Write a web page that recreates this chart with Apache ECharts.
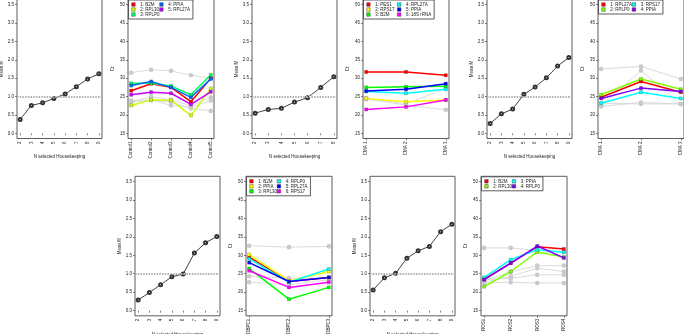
<!DOCTYPE html>
<html>
<head>
<meta charset="utf-8">
<script src="https://cdn.jsdelivr.net/npm/echarts@6/dist/echarts.min.js"></script>
<style>
  html, body { margin: 0; padding: 0; background: #fff; }
  #chart { width: 684px; height: 334px; }
</style>
</head>
<body>
<div id="chart"></div>
<script>
// tick labels
const meanMTicks = [0, 0.5, 1, 1.5, 2, 2.5, 3, 3.5];
const ctTicks = [15, 20, 25, 30, 35, 40, 45, 50];

// top row, first pair
const nSelA = [2, 3, 4, 5, 6, 7, 8, 9];
const meanMA = [0.38, 0.76, 0.83, 0.95, 1.07, 1.27, 1.48, 1.62];
const catsA = ['Control1', 'Control2', 'Control3', 'Control4', 'Control5'];
const genesA = ['1: B2M', '2: RPL30', '3: RPLP0', '4: PPIA', '5: RPL27A'];
const ctA = [
  [26.6, 28.5, 27.5, 23.6, 30.0],
  [22.6, 24.1, 24.0, 19.9, 27.2],
  [28.6, 28.6, 27.9, 25.5, 30.9],
  [28.0, 29.1, 27.5, 24.8, 29.8],
  [25.5, 26.2, 25.9, 22.9, 26.3],
];
const greyA = [
  [31.5, 32.3, 32.0, 30.8, 30.0],
  [23.6, 25.0, 24.1, 22.5, 24.8],
  [23.9, 24.1, 22.6, 22.1, 23.9],
  [23.4, 24.0, 23.5, 21.8, 21.1],
];

// top row, second pair
const nSelB = [2, 3, 4, 5, 6, 7, 8];
const meanMB = [0.55, 0.65, 0.68, 0.85, 0.97, 1.25, 1.54];
const catsB = ['CMA 1', 'CMA 2', 'CMA 3'];
const genesB = ['1: PES1', '2: RPS17', '3: B2M', '4: RPL27A', '5: PPIA', '6: 18S rRNA'];
const ctB = [
  [31.7, 31.7, 30.8],
  [24.5, 23.6, 24.1],
  [27.5, 27.7, 27.8],
  [26.4, 25.9, 27.0],
  [26.5, 27.0, 28.5],
  [21.5, 22.2, 24.1],
];
const greyB = [
  [24.3, 22.7, 21.4],
  [24.6, 23.0, 27.2],
];

// top row, third pair
const nSelC = [2, 3, 4, 5, 6, 7, 8, 9];
const meanMC = [0.27, 0.53, 0.66, 1.06, 1.26, 1.51, 1.83, 2.06];
const catsC = ['CMA 1', 'CMA 2', 'CMA 3'];
const genesC = ['1: RPL27A', '2: RPLP0', '3: RPS17', '4: PPIA'];
const ctC = [
  [24.8, 29.1, 26.2],
  [25.5, 29.8, 27.0],
  [23.2, 26.2, 24.5],
  [24.5, 27.3, 26.4],
];
const greyC = [
  [32.5, 33.2, 29.8],
  [22.5, 32.1, 22.9],
  [22.3, 23.4, 23.0],
  [23.2, 23.0, 23.0],
];

// bottom row, first pair
const nSelD = [2, 3, 4, 5, 6, 7, 8, 9];
const meanMD = [0.29, 0.49, 0.70, 0.92, 0.99, 1.56, 1.84, 2.01];
const catsD = ['DBPC1', 'DBPC2', 'DBPC3'];
const genesD = ['1: B2M', '2: PPIA', '3: RPL30', '4: RPLP0', '5: RPL27A', '6: RPS17'];
const ctD = [
  [29.5, 22.9, 24.0],
  [30.2, 23.1, 25.6],
  [26.4, 18.1, 21.3],
  [29.0, 22.7, 26.3],
  [28.0, 22.9, 24.0],
  [25.8, 21.3, 22.7],
];
const greyD = [
  [32.6, 32.2, 32.4],
  [24.3, 23.8, 23.8],
  [22.7, 22.0, 23.4],
];

// bottom row, second pair
const nSelE = [2, 3, 4, 5, 6, 7, 8, 9];
const meanME = [0.56, 0.89, 1.01, 1.42, 1.62, 1.74, 2.14, 2.34];
const catsE = ['ROS1', 'ROS2', 'ROS3', 'ROS4'];
const genesE = ['1: B2M', '2: RPL30', '3: PPIA', '4: RPLP0'];
const ctE = [
  [23.5, 27.9, 32.3, 31.7],
  [21.5, 25.6, 30.9, 29.5],
  [24.0, 28.8, 31.5, 30.8],
  [23.4, 27.9, 32.5, 29.3],
];
const greyE = [
  [32.0, 32.0, 31.3, 31.0],
  [23.1, 25.5, 27.2, 27.2],
  [22.7, 24.3, 26.5, 25.6],
  [23.4, 23.8, 24.7, 24.7],
  [22.5, 22.7, 22.5, 22.5],
];

const rainbow4 = ['#FF0000', '#80FF00', '#00FFFF', '#8000FF'];
const rainbow5 = ['#FF0000', '#CCFF00', '#00FF66', '#0066FF', '#CC00FF'];
const rainbow6 = ['#FF0000', '#FFFF00', '#00FF00', '#00FFFF', '#0000FF', '#FF00FF'];

const fs = 4.5;
const txt = '#222';
const grids = [];
const xAxes = [];
const yAxes = [];
const series = [];
const legends = [];

function pad4(lo, hi) {
  const e = (hi - lo) * 0.04;
  return [lo - e, hi + e];
}

function addGrid(box) {
  grids.push({
    left: box.left, top: box.top, width: box.width, height: box.height,
    show: true, borderColor: '#333', borderWidth: 0.8,
    backgroundColor: 'transparent', outerBoundsMode: 'none',
  });
  return grids.length - 1;
}

function makeX(g, lo, hi, ticks, fmt, name) {
  const r = pad4(lo, hi);
  return {
    gridIndex: g, type: 'value', min: r[0], max: r[1],
    name: name, nameLocation: 'middle', nameGap: 16,
    nameTextStyle: { fontSize: fs, color: txt },
    axisLine: { show: false },
    axisTick: { show: true, length: 2, customValues: ticks, lineStyle: { color: '#333', width: 0.6 } },
    axisLabel: { customValues: ticks, rotate: 90, fontSize: fs, color: txt, margin: 3, formatter: fmt },
    splitLine: { show: false },
  };
}

function makeY(g, ticks, fmt, name) {
  const r = pad4(ticks[0], ticks[ticks.length - 1]);
  return {
    gridIndex: g, type: 'value', min: r[0], max: r[1],
    name: name, nameLocation: 'middle', nameGap: 13, nameRotate: 90,
    nameTextStyle: { fontSize: fs, color: txt },
    axisLine: { show: false },
    axisTick: { show: true, length: 2, customValues: ticks, lineStyle: { color: '#333', width: 0.6 } },
    axisLabel: { customValues: ticks, fontSize: fs, color: txt, margin: 3, formatter: fmt },
    splitLine: { show: false },
  };
}

function meanPanel(box, nSel, meanM) {
  const g = addGrid(box);
  xAxes.push(makeX(g, nSel[0], nSel[nSel.length - 1], nSel, (v) => String(Math.round(v)), 'N selected Housekeeping'));
  yAxes.push(makeY(g, meanMTicks, (v) => v.toFixed(1), 'Mean M'));
  series.push({
    type: 'line', xAxisIndex: g, yAxisIndex: g, silent: true,
    data: nSel.map((n, i) => [n, meanM[i]]),
    symbol: 'emptyCircle', symbolSize: 3,
    lineStyle: { color: '#111', width: 0.8 },
    itemStyle: { color: '#333', borderWidth: 0.5 },
    markLine: {
      silent: true, symbol: ['none', 'none'], label: { show: false },
      lineStyle: { color: '#b0b0b0', type: [1.5, 1.2], width: 1.8 },
      data: [{ yAxis: 1 }],
    },
  });
}

function ctPanel(box, cats, genes, ct, grey, pal, rows, tw) {
  const g = addGrid(box);
  const idx = cats.map((c, i) => i + 1);
  xAxes.push(makeX(g, 1, cats.length, idx, (v) => cats[Math.round(v) - 1], ''));
  yAxes.push(makeY(g, ctTicks, (v) => String(v), 'Ct'));
  grey.forEach((vals) => {
    series.push({
      type: 'line', xAxisIndex: g, yAxisIndex: g, silent: true,
      data: vals.map((v, i) => [i + 1, v]),
      symbol: 'emptyCircle', symbolSize: 2.6,
      lineStyle: { color: '#d2d2d2', width: 0.8 },
      itemStyle: { color: '#c8c8c8', borderWidth: 0.5 },
    });
  });
  ct.forEach((vals, k) => {
    series.push({
      name: genes[k], type: 'line', xAxisIndex: g, yAxisIndex: g, silent: true,
      data: vals.map((v, i) => [i + 1, v]),
      symbol: 'rect', symbolSize: 3.2,
      lineStyle: { color: pal[k], width: 1.5 },
      itemStyle: { color: pal[k], borderColor: 'rgba(0,0,0,0.45)', borderWidth: 0.4 },
    });
  });
  legends.push({
    left: box.left + 0.5, top: box.top + 0.5,
    orient: 'vertical', height: rows * 5 + 0.5,
    itemGap: 0, itemWidth: 3.5, itemHeight: 3.5, icon: 'rect',
    padding: [2, 3, 2, 3],
    borderColor: '#333', borderWidth: 0.8, backgroundColor: '#fff',
    selectedMode: false,
    textStyle: { fontSize: fs, color: txt, width: tw, lineHeight: 5 },
    data: genes.map((nm, i) => ({
      name: nm,
      itemStyle: { color: pal[i], borderColor: '#222', borderWidth: 0.4 },
    })),
  });
}

const topY = -0.5;
const topH = 139;
const botY = 176.3;
const botH = 139.5;

meanPanel({ left: 17, top: topY, width: 85, height: topH }, nSelA, meanMA);
ctPanel({ left: 128, top: topY, width: 86, height: topH }, catsA, genesA, ctA, greyA, rainbow5, 3, 18);
meanPanel({ left: 252, top: topY, width: 85, height: topH }, nSelB, meanMB);
ctPanel({ left: 363, top: topY, width: 86, height: topH }, catsB, genesB, ctB, greyB, rainbow6, 3, 22);
meanPanel({ left: 487, top: topY, width: 85, height: topH }, nSelC, meanMC);
ctPanel({ left: 598, top: topY, width: 86, height: topH }, catsC, genesC, ctC, greyC, rainbow4, 2, 18);

meanPanel({ left: 135, top: botY, width: 85, height: botH }, nSelD, meanMD);
ctPanel({ left: 246, top: botY, width: 86, height: botH }, catsD, genesD, ctD, greyD, rainbow6, 3, 18);
meanPanel({ left: 370, top: botY, width: 85, height: botH }, nSelE, meanME);
ctPanel({ left: 481, top: botY, width: 86, height: botH }, catsE, genesE, ctE, greyE, rainbow4, 2, 17);

const chart = echarts.init(document.getElementById('chart'));
chart.setOption({
  animation: false,
  backgroundColor: '#fff',
  textStyle: { fontFamily: 'Liberation Sans, Arial, sans-serif' },
  grid: grids,
  xAxis: xAxes,
  yAxis: yAxes,
  legend: legends,
  series: series,
});
</script>
</body>
</html>
